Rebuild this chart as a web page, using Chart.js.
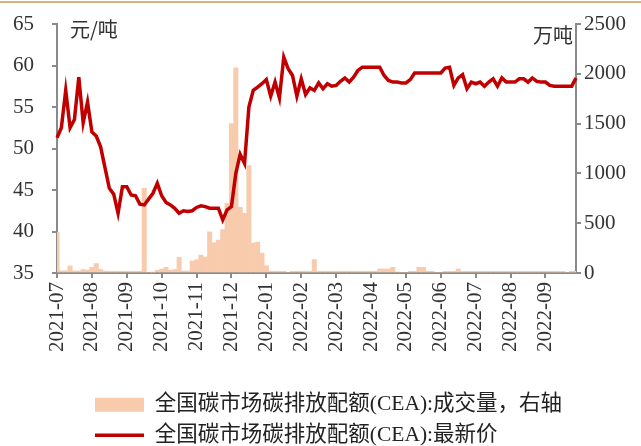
<!DOCTYPE html>
<html>
<head>
<meta charset="utf-8">
<script src="https://cdn.jsdelivr.net/npm/chart.js@4"></script>
<style>
  html, body { margin: 0; padding: 0; background: #fff; }
  #wrap { width: 641px; height: 446px; position: relative; }
</style>
</head>
<body>
<div id="wrap"><canvas id="chart"></canvas></div>
<script>
// month tick labels (one every 8 samples)
const months = ['2021-07', '2021-08', '2021-09', '2021-10', '2021-11', '2021-12', '2022-01',
    '2022-02', '2022-03', '2022-04', '2022-05', '2022-06', '2022-07', '2022-08', '2022-09'];
const perMonth = 8;

// CEA latest price, yuan/ton (~8 samples per month)
const price = [
    51.3, 52.5, 57.0, 52.5, 53.5, 58.6, 53.1, 55.6,
    52.0, 51.5, 50.2, 47.7, 45.2, 44.5, 42.2, 45.4,
    45.4, 44.4, 44.3, 43.3, 43.2, 43.9, 44.6, 45.8,
    44.3, 43.5, 43.2, 42.8, 42.2, 42.5, 42.4, 42.5,
    42.9, 43.1, 43.0, 42.8, 42.8, 42.8, 41.4, 42.6,
    43.0, 47.0, 49.3, 48.2, 55.0, 57.0, 57.4, 57.8,
    58.3, 56.3, 58.0, 56.1, 61.0, 59.6, 58.8, 56.3,
    58.4, 56.5, 57.3, 57.0, 57.9, 57.2, 57.8, 57.5,
    57.6, 58.1, 58.5, 58.0, 58.6, 59.4, 59.8, 59.8,
    59.8, 59.8, 59.8, 58.8, 58.2, 58.0, 58.0, 57.9,
    57.9, 58.3, 59.1, 59.1, 59.1, 59.1, 59.1, 59.1,
    59.1, 59.7, 59.8, 57.6, 58.5, 58.9, 57.2, 58.0,
    57.8, 58.0, 57.5, 58.0, 58.4, 57.5, 58.5, 58.0,
    58.0, 58.0, 58.4, 58.4, 58.0, 58.5, 58.1, 58.0,
    58.0, 57.6, 57.5, 57.5, 57.5, 57.5, 57.5, 58.5
];

// CEA turnover, 10k tons (right axis)
const volume = [
    410, 22, 22, 70, 20, 20, 35, 30,
    57, 95, 35, 20, 18, 18, 18, 18,
    18, 18, 18, 18, 850, 0, 8, 27,
    40, 57, 27, 35, 157, 20, 20, 120,
    133, 180, 160, 413, 303, 330, 437, 700,
    1500, 2060, 660, 600, 1080, 300, 310, 200,
    73, 18, 18, 18, 18, 0, 18, 18,
    18, 18, 18, 135, 18, 18, 18, 18,
    18, 18, 18, 18, 18, 18, 18, 18,
    18, 18, 40, 40, 40, 57, 10, 0,
    0, 17, 17, 57, 57, 17, 17, 0,
    0, 17, 17, 17, 40, 17, 17, 17,
    17, 17, 17, 17, 17, 17, 17, 17,
    17, 17, 17, 17, 17, 17, 17, 17,
    17, 17, 17, 17, 17, 0, 17, 17
];

const labels = price.map((p, i) => (i % perMonth === 0 && months[i / perMonth]) ? months[i / perMonth] : '');

const axisColor = '#8a8a8a';
const textColor = '#333333';
const serif = "'Liberation Serif', 'Noto Sans CJK SC', serif";
const cjk = "'Liberation Serif', 'Noto Sans CJK SC', sans-serif";

// unit captions, page rule on top, and legend shift to the left column
const extras = {
    id: 'extras',
    beforeDraw(chart) {
        const lg = chart.legend;
        if (lg) {
            lg.left = 86;
            lg.top = chart.height - lg.height + 10;
            lg.bottom = chart.height;
        }
    },
    afterDraw(chart) {
        const ctx = chart.ctx;
        const area = chart.chartArea;
        ctx.save();
        ctx.strokeStyle = '#cc9a4c';
        ctx.lineWidth = 1.5;
        ctx.beginPath();
        ctx.moveTo(0, 2);
        ctx.lineTo(chart.width, 2);
        ctx.stroke();

        ctx.fillStyle = textColor;
        ctx.font = "20px 'Noto Sans CJK SC', sans-serif";
        ctx.textBaseline = 'middle';
        ctx.textAlign = 'left';
        ctx.fillText('元/吨', area.left + 13, area.top + 5);
        ctx.textAlign = 'right';
        ctx.fillText('万吨', area.right - 3, area.top + 11);
        ctx.restore();
    }
};

// keep the tick padding from pushing the plot top/bottom
function fixY(width) {
    return s => {
        s.width = width;
        s.paddingTop = 12;
        s.paddingBottom = 12;
    };
}

const ctx = document.getElementById('chart').getContext('2d');
new Chart(ctx, {
    type: 'bar',
    data: {
        labels: labels,
        datasets: [{
            type: 'bar',
            label: '全国碳市场碳排放配额(CEA):成交量，右轴',
            data: volume,
            yAxisID: 'y1',
            backgroundColor: '#f8cbad',
            borderWidth: 0,
            barPercentage: 1,
            categoryPercentage: 1,
            pointStyle: 'rect',
            order: 1
        }, {
            type: 'line',
            label: '全国碳市场碳排放配额(CEA):最新价',
            data: price,
            yAxisID: 'y',
            borderColor: '#c00000',
            backgroundColor: '#c00000',
            borderWidth: 3.5,
            pointRadius: 0,
            tension: 0,
            pointStyle: 'line',
            order: 0
        }]
    },
    options: {
        responsive: true,
        maintainAspectRatio: false,
        animation: false,
        layout: { padding: { top: 24, left: 0, right: 0, bottom: 0 } },
        scales: {
            x: {
                offset: false,
                grid: {
                    offset: false,
                    drawOnChartArea: false,
                    drawTicks: true,
                    tickLength: 5,
                    lineWidth: 2,
                    color: c => labels[c.index] ? axisColor : 'rgba(0,0,0,0)'
                },
                border: { color: axisColor, width: 2 },
                ticks: {
                    autoSkip: false,
                    minRotation: 90,
                    maxRotation: 90,
                    padding: 4,
                    color: textColor,
                    font: { family: serif, size: 21 },
                    callback: function (v) { return this.getLabelForValue(v); }
                },
                afterFit: s => { s.height = 102; }
            },
            y: {
                position: 'left',
                min: 35,
                max: 65,
                ticks: { stepSize: 5, padding: 18, color: textColor, font: { family: serif, size: 21 } },
                grid: { drawOnChartArea: false, tickLength: 5, lineWidth: 2, color: axisColor },
                border: { color: axisColor, width: 2 },
                afterFit: fixY(57)
            },
            y1: {
                position: 'right',
                min: 0,
                max: 2500,
                ticks: {
                    stepSize: 500, padding: 3, color: textColor, font: { family: serif, size: 21 },
                    callback: v => String(v)
                },
                grid: { drawOnChartArea: false, tickLength: 5, lineWidth: 2, color: axisColor },
                border: { color: axisColor, width: 2 },
                afterFit: fixY(65)
            }
        },
        plugins: {
            tooltip: { enabled: false },
            legend: {
                position: 'bottom',
                align: 'start',
                labels: {
                    usePointStyle: true,
                    pointStyleWidth: 49,
                    boxHeight: 14,
                    padding: 9,
                    color: '#222222',
                    font: { family: cjk, size: 21.5 },
                    sort: (a, b) => a.datasetIndex - b.datasetIndex
                }
            }
        }
    },
    plugins: [extras]
});
</script>
</body>
</html>
